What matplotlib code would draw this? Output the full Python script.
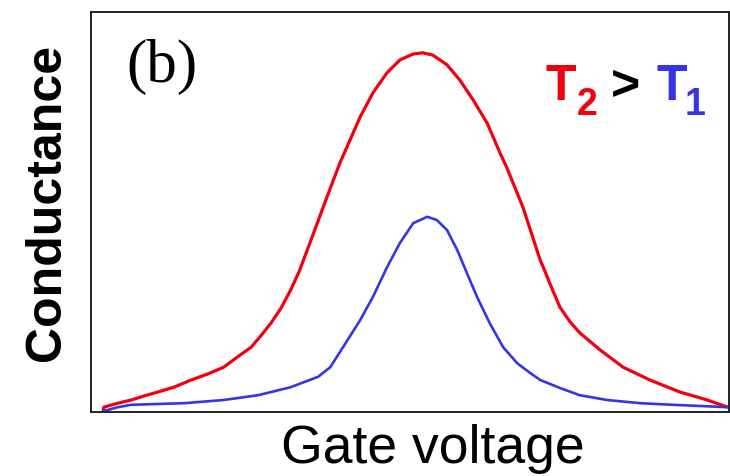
import matplotlib
matplotlib.use("Agg")
import matplotlib.pyplot as plt

# values (gate voltage in arbitrary units 0-100, conductance 0-1)
red_x = [1.9, 2.0, 4.2, 6.3, 8.3, 10.5, 13.0, 15.7, 18.3, 20.8, 23.0, 25.1, 26.6,
         28.2, 29.8, 31.3, 32.6, 34.3, 37.0, 39.0, 40.6, 42.2, 44.2, 46.4, 48.4,
         50.5, 52.0, 53.6, 55.8, 57.8, 59.9, 62.1, 64.1, 65.2, 67.7, 70.4, 71.2,
         71.9, 73.5, 75.1, 76.6, 79.8, 83.4, 87.6, 92.3, 96.6, 99.8]
red_y = [0.002, 0.012, 0.022, 0.030, 0.040, 0.050, 0.062, 0.080, 0.095, 0.112, 0.138,
         0.162, 0.190, 0.222, 0.260, 0.305, 0.350, 0.422, 0.538, 0.622, 0.680, 0.738,
         0.798, 0.848, 0.880, 0.895, 0.898, 0.892, 0.868, 0.830, 0.780, 0.722, 0.648,
         0.610, 0.512, 0.380, 0.350, 0.322, 0.262, 0.225, 0.198, 0.155, 0.112, 0.080,
         0.050, 0.030, 0.012]

blue_x = [1.9, 4.2, 6.3, 14.6, 20.8, 26.2, 31.3, 35.6, 37.5, 39.5, 42.2, 44.2, 46.4,
          48.4, 50.5, 52.7, 54.2, 55.8, 57.4, 58.9, 60.5, 62.5, 64.6, 66.8, 68.8,
          70.4, 73.5, 76.6, 80.9, 86.1, 91.2, 99.8]
blue_y = [0.002, 0.012, 0.018, 0.022, 0.030, 0.042, 0.062, 0.088, 0.112, 0.162, 0.230,
          0.288, 0.362, 0.422, 0.472, 0.488, 0.480, 0.455, 0.405, 0.348, 0.288, 0.222,
          0.162, 0.122, 0.098, 0.080, 0.060, 0.042, 0.030, 0.022, 0.018, 0.012]

RED = "#f2000f"
BLUE = "#3535e6"

plt.rcParams["font.family"] = ["Liberation Sans", "DejaVu Sans"]

fig = plt.figure(figsize=(7.3, 4.76), dpi=100)
ax = fig.add_axes([91 / 730, 64 / 476, 638 / 730, 400 / 476])

ax.plot(red_x, red_y, color=RED, lw=2.3, solid_capstyle="round", solid_joinstyle="round")
ax.plot(blue_x, blue_y, color=BLUE, lw=1.9, solid_capstyle="round", solid_joinstyle="round")

ax.set_xlim(0, 100)
ax.set_ylim(0, 1)
ax.set_xticks([])
ax.set_yticks([])
for s in ax.spines.values():
    s.set_linewidth(1.4)
    s.set_color("#222222")

ax.set_xlabel("Gate voltage", fontsize=38.5)
ax.xaxis.set_label_coords(0.536, -0.03)
ax.set_ylabel("Conductance", fontsize=36, fontweight="bold")
ax.yaxis.set_label_coords(-0.033, 0.525)

# panel label and temperature note
ax.text(0.055, 0.825, "(b)", transform=ax.transAxes, fontsize=44,
        family=["Liberation Serif", "DejaVu Serif"], va="baseline", ha="left")
big = dict(transform=ax.transAxes, fontsize=36, fontweight="bold", va="baseline", ha="left")
sub = dict(transform=ax.transAxes, fontsize=27, fontweight="bold", va="baseline", ha="left")
ax.text(0.712, 0.78, "T", color=RED, **big)
ax.text(0.761, 0.7425, "2", color=RED, **sub)
ax.text(0.815, 0.78, ">", color="black", **big)
ax.text(0.886, 0.78, "T", color=BLUE, **big)
ax.text(0.931, 0.7425, "1", color=BLUE, **sub)

fig.savefig("out.png", dpi=100)
